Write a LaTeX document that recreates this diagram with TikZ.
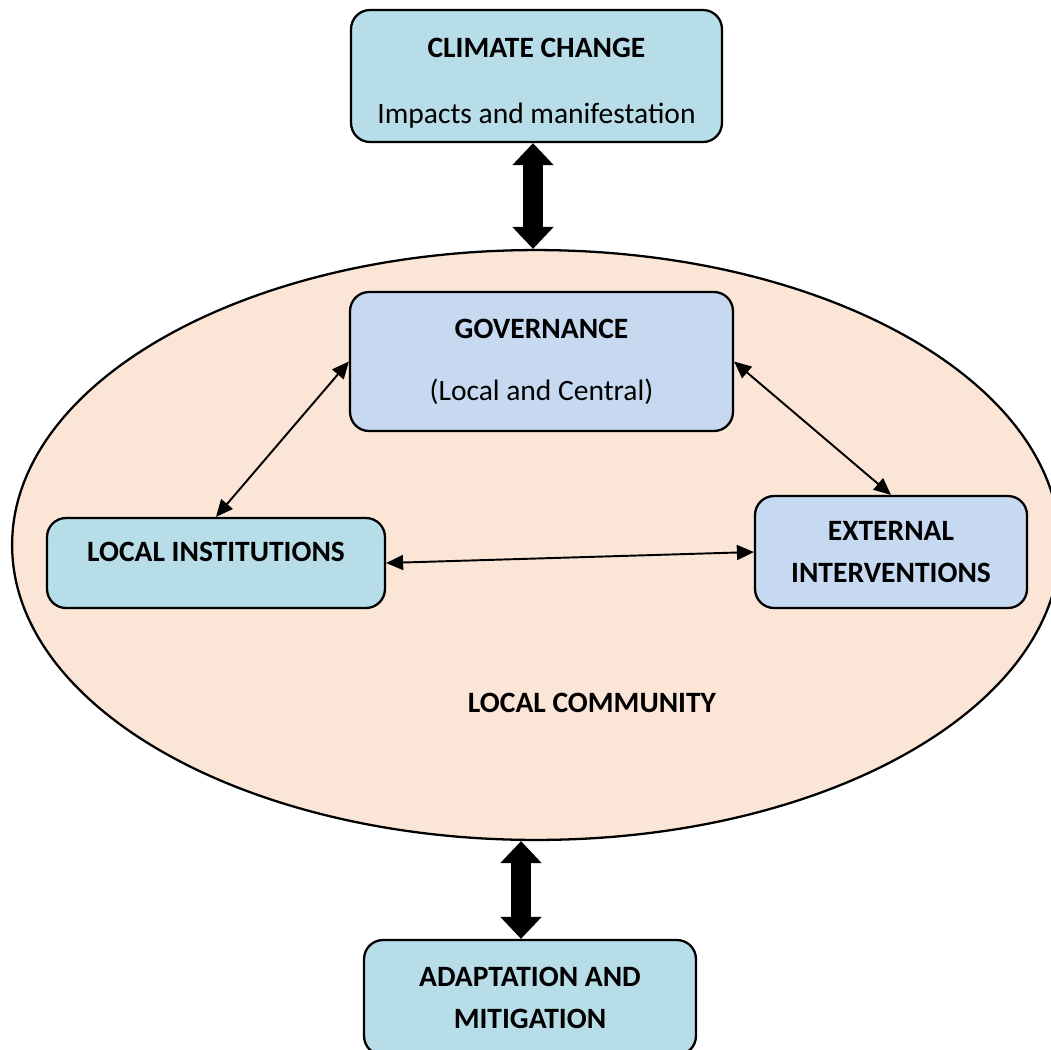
\documentclass[tikz,border=0pt]{standalone}
\usepackage{fontspec}
\setmainfont{Carlito}
\usetikzlibrary{arrows.meta,shapes.geometric}

\definecolor{aquabox}{HTML}{B7DDE8}
\definecolor{lilacbox}{HTML}{C6D9F1}
\definecolor{peach}{HTML}{FBE5D6}

\tikzset{
  box/.style={draw, line width=1.3pt, rounded corners=0.38cm, align=center,
    inner sep=0pt, font=\fontsize{16.8}{20.2}\selectfont},
  aqua/.style={box, fill=aquabox},
  lilac/.style={box, fill=lilacbox},
  link/.style={line width=1.1pt, {Triangle[length=0.34cm,width=0.3cm]}-{Triangle[length=0.34cm,width=0.3cm]}},
  bigarrow/.style={line width=0.4cm, {Triangle[length=0.44cm,width=0.8cm]}-{Triangle[length=0.44cm,width=0.8cm]}}
}

\begin{document}
\begin{tikzpicture}[x=0.02cm,y=-0.02cm]
				\clip (0,0) rectangle (1051,1049);

				% community
				\node [draw, line width=1.3pt, fill=peach, ellipse, inner sep=0pt,
				  minimum width=20.96cm, minimum height=11.8cm] (comm) at (536,545) {};
				\node [font=\fontsize{16.8}{20.2}\selectfont\bfseries] (commlabel) at (592,703) {LOCAL COMMUNITY};

				% boxes
				\node [aqua, minimum width=7.42cm, minimum height=2.64cm, text height=1.98cm] (climate) at (536.5,76)
				  {\textbf{CLIMATE CHANGE}\\[0.61cm]Impacts and manifestation};
				\node [lilac, minimum width=7.66cm, minimum height=2.78cm] (gov) at (541.5,361.5)
				  {\textbf{GOVERNANCE}\\[0.53cm](Local and Central)};
				\node [aqua, minimum width=6.76cm, minimum height=1.8cm, text depth=0.46cm,
				  font=\fontsize{16.8}{20.2}\selectfont\bfseries] (local) at (216,563) {LOCAL INSTITUTIONS};
				\node [lilac, minimum width=5.44cm, minimum height=2.24cm,
				  font=\fontsize{16.8}{20.2}\selectfont\bfseries] (ext) at (891,552)
				  {EXTERNAL\\[0.13cm]INTERVENTIONS};
				\node [aqua, minimum width=6.64cm, minimum height=2.3cm,
				  font=\fontsize{16.8}{20.2}\selectfont\bfseries] (adapt) at (530,997.5)
				  {ADAPTATION AND\\[0.13cm]MITIGATION};

				% links
				\coordinate (cctop) at ([xshift=-0.07cm]climate.south);
				\coordinate (adtop) at ([xshift=-0.18cm]adapt.north);
				\draw [bigarrow] (cctop) -- (cctop |- comm.north);
				\draw [bigarrow] (adtop |- comm.south) -- (adtop);
				\draw [link] (gov.west) -- (local.north);
				\draw [link] (gov.east) -- (ext.north);
				\draw [link] (local.east) -- (ext.west);
			\end{tikzpicture}
\end{document}
